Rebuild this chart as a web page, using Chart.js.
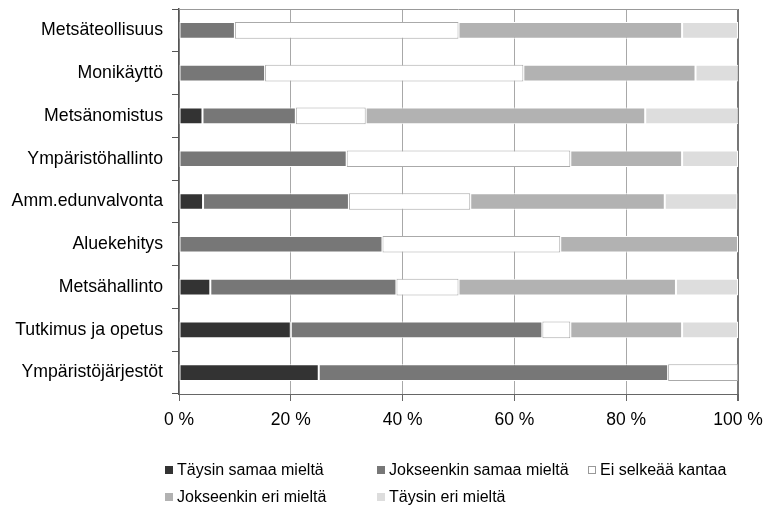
<!DOCTYPE html>
<html>
<head>
<meta charset="utf-8">
<script src="https://cdn.jsdelivr.net/npm/chart.js@4/dist/chart.umd.min.js"></script>
<style>
    body { margin: 0; background: #fff; }
    #wrap { position: relative; width: 764px; height: 509px; }
    #legenda { position: absolute; left: 0; top: 0; width: 764px; height: 509px; pointer-events: none;
               font-family: "Liberation Sans", Arial, sans-serif; font-size: 16px; color: #000; }
    .item { position: absolute; display: flex; align-items: center; white-space: nowrap; transform: translateY(-50%); }
    .caixa { width: 8px; height: 8px; margin-right: 4px; box-sizing: border-box; }
</style>
</head>
<body>
<div id="wrap">
    <canvas id="barchart" width="764" height="509"></canvas>
    <div id="legenda"></div>
</div>
<script>
    // ---------- DADOS ----------
    const categorias = [
        "Metsäteollisuus", "Monikäyttö", "Metsänomistus", "Ympäristöhallinto",
        "Amm.edunvalvonta", "Aluekehitys", "Metsähallinto", "Tutkimus ja opetus", "Ympäristöjärjestöt"
    ];
    const taysinSamaa     = [0,    0,    4.2,  0,  4.3,  0,    5.6,  20, 25];
    const jokseenkinSamaa = [10,   15.4, 16.7, 30, 26.1, 36.4, 33.3, 45, 62.5];
    const eiSelkeaa       = [40,   46.2, 12.5, 40, 21.7, 31.8, 11.1, 5,  12.5];
    const jokseenkinEri   = [40,   30.8, 50,   20, 34.8, 31.8, 38.9, 20, 0];
    const taysinEri       = [10,   7.7,  16.7, 10, 13.0, 0,    11.1, 10, 0];
    const xTicks = [0, 20, 40, 60, 80, 100];

    const fonte = "'Liberation Sans', Arial, sans-serif";

    // borda superior da área do gráfico
    const bordaTopo = {
        id: "bordaTopo",
        beforeDatasetsDraw(chart) {
            const { ctx, chartArea } = chart;
            ctx.save();
            ctx.strokeStyle = "#999";
            ctx.lineWidth = 1;
            ctx.beginPath();
            ctx.moveTo(chartArea.left, chartArea.top + 0.5);
            ctx.lineTo(chartArea.right, chartArea.top + 0.5);
            ctx.stroke();
            ctx.restore();
        }
    };

    function serie(label, data, cor, borda) {
        return {
            label,
            data,
            backgroundColor: cor,
            borderColor: borda,
            borderWidth: 1,
            borderSkipped: false,
            barPercentage: 0.39,
            categoryPercentage: 1
        };
    }

    const ctx = document.getElementById("barchart").getContext("2d");
    const grafico = new Chart(ctx, {
        type: "bar",
        data: {
            labels: categorias,
            datasets: [
                serie("Täysin samaa mieltä", taysinSamaa, "#333333", "#ffffff"),
                serie("Jokseenkin samaa mieltä", jokseenkinSamaa, "#777777", "#ffffff"),
                serie("Ei selkeää kantaa", eiSelkeaa, "#ffffff", "#aaaaaa"),
                serie("Jokseenkin eri mieltä", jokseenkinEri, "#b2b2b2", "#ffffff"),
                serie("Täysin eri mieltä", taysinEri, "#dddddd", "#ffffff")
            ]
        },
        options: {
            indexAxis: "y",
            responsive: false,
            animation: false,
            layout: { padding: { left: 0, right: 26, top: 9, bottom: 75 } },
            plugins: {
                legend: { display: false },
                tooltip: { enabled: false }
            },
            scales: {
                x: {
                    stacked: true,
                    min: 0,
                    max: 100,
                    afterBuildTicks(scale) { scale.ticks = xTicks.map(v => ({ value: v })); },
                    afterFit(scale) {
                        scale.height = 40;
                        scale.paddingLeft = 0;
                        scale.paddingRight = 0;
                    },
                    ticks: {
                        callback: v => v + " %",
                        color: "#000",
                        padding: 9,
                        maxRotation: 0,
                        font: { family: fonte, size: 17.5 }
                    },
                    grid: {
                        color: c => c.tick && c.tick.value === 100 ? "#777" : "#a8a8a8",
                        lineWidth: c => c.tick && c.tick.value === 100 ? 2 : 1,
                        tickColor: "#666",
                        tickLength: 7
                    },
                    border: { color: "#666", width: 1 }
                },
                y: {
                    stacked: true,
                    afterFit(scale) {
                        scale.width = 179;
                        scale.paddingTop = 0;
                        scale.paddingBottom = 0;
                    },
                    ticks: {
                        color: "#000",
                        padding: 9,
                        font: { family: fonte, size: 17.7 }
                    },
                    grid: {
                        offset: true,
                        drawOnChartArea: false,
                        tickColor: "#555",
                        tickLength: 7
                    },
                    border: { color: "#555", width: 1.5 }
                }
            }
        },
        plugins: [bordaTopo]
    });

    // ---------- LEGENDA ----------
    const posLegenda = [
        { x: 165, y: 470 }, { x: 377, y: 470 }, { x: 588, y: 470 },
        { x: 165, y: 497 }, { x: 377, y: 497 }
    ];
    const legenda = document.getElementById("legenda");
    grafico.data.datasets.forEach((ds, i) => {
        const item = document.createElement("div");
        item.className = "item";
        item.style.left = posLegenda[i].x + "px";
        item.style.top = posLegenda[i].y + "px";
        const caixa = document.createElement("span");
        caixa.className = "caixa";
        caixa.style.background = ds.backgroundColor;
        if (ds.backgroundColor === "#ffffff") caixa.style.border = "1px solid #999";
        const texto = document.createElement("span");
        texto.textContent = ds.label;
        item.appendChild(caixa);
        item.appendChild(texto);
        legenda.appendChild(item);
    });
</script>
</body>
</html>
